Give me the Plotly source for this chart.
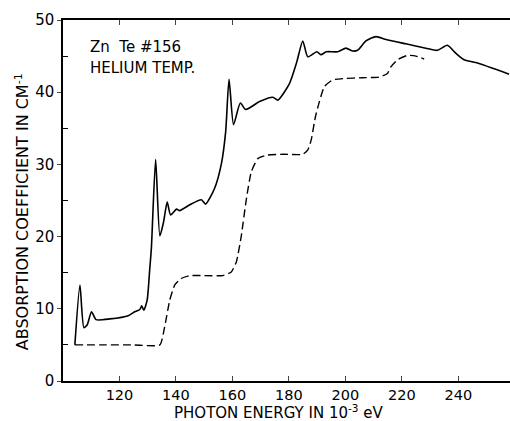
import plotly.graph_objects as go

# Solid curve: measured absorption
solid_x = [104.2, 106.0, 107.4, 108.6, 110.1, 111.7, 116.6, 123.1, 125.4, 127.2, 127.9, 128.6,
           129.8, 130.7, 131.3, 132.8, 134.3, 135.6, 136.9, 138.1, 140.2, 141.3, 144.9, 149.0,
           150.5, 153.7, 156.1, 157.6, 158.8, 160.4, 162.8, 164.7, 169.6, 174.3, 176.1, 180.2,
           182.8, 184.9, 186.7, 189.9, 191.4, 193.2, 197.3, 200.2, 202.6, 204.3, 207.3, 210.8,
           214.4, 221.4, 228.5, 232.6, 236.1, 239.1, 242.0, 246.2, 258.0]
solid_y = [5.0, 13.3, 7.4, 7.8, 9.6, 8.5, 8.6, 9.05, 9.6, 9.9, 10.4, 9.8,
           11.2, 15.4, 18.4, 30.7, 20.1, 22.0, 24.8, 23.0, 23.8, 23.6, 24.4, 25.1,
           24.5, 26.7, 30.1, 34.5, 41.8, 35.5, 38.5, 37.6, 38.7, 39.3, 38.9, 41.2,
           44.2, 47.1, 44.9, 45.6, 45.2, 45.6, 45.6, 46.1, 45.7, 45.8, 47.1, 47.7,
           47.3, 46.7, 46.1, 45.8, 46.5, 45.4, 44.5, 44.1, 42.5]

# Dashed curve
dash_x = [104.2, 115.0, 125.0, 134.3, 136.0, 137.8, 139.6, 141.9, 144.9, 150.0, 156.6, 159.6,
          161.4, 163.1, 164.9, 166.7, 169.0, 172.5, 178.0, 184.9, 186.7, 187.9, 189.4, 190.8,
          192.6, 195.5, 199.6, 206.0, 212.0, 214.9, 216.1, 218.5, 222.0, 225.0, 227.9]
dash_y = [5.0, 5.0, 5.0, 5.0, 7.5, 11.2, 13.3, 14.2, 14.6, 14.6, 14.6, 15.1,
          16.5, 20.0, 25.1, 29.0, 30.8, 31.3, 31.4, 31.4, 32.0, 33.4, 36.6, 38.7,
          40.8, 41.7, 41.9, 42.0, 42.1, 42.6, 43.5, 44.5, 45.1, 45.0, 44.6]

x_ticks = [120, 140, 160, 180, 200, 220, 240]
y_ticks = [0, 10, 20, 30, 40, 50]

FONT = "DejaVu Sans"

fig = go.Figure()
fig.add_trace(go.Scatter(x=solid_x, y=solid_y, mode="lines",
                         line=dict(color="black", width=1.6, shape="spline", smoothing=0.6),
                         showlegend=False))
fig.add_trace(go.Scatter(x=dash_x, y=dash_y, mode="lines",
                         line=dict(color="black", width=1.4, dash="8px,4px", shape="spline", smoothing=0.5),
                         showlegend=False))

fig.update_layout(
    width=510, height=421,
    margin=dict(l=63, r=0, t=20, b=40),
    paper_bgcolor="white", plot_bgcolor="white",
    font=dict(family=FONT, color="black", size=14),
    xaxis=dict(range=[100, 258.3], tickvals=x_ticks, ticks="inside", ticklen=5,
               showline=True, linecolor="black", linewidth=1.5, mirror="ticks",
               showgrid=False, zeroline=False, tickfont=dict(size=14.5)),
    yaxis=dict(range=[0, 50], tickvals=y_ticks, ticks="outside", ticklen=4,
               showline=True, linecolor="black", linewidth=1.5,
               showgrid=False, zeroline=False, tickfont=dict(size=15),
               ticklabelstandoff=0,
               minor=dict(tickvals=[5, 15, 25, 35, 45], ticks="inside", ticklen=5,
                          tickcolor="black", showgrid=False)),
    annotations=[
        dict(text="PHOTON ENERGY IN 10<sup>-3</sup> eV", xref="paper", yref="paper",
             x=(278-63)/447, y=-(401.5-381.5)/361.5, xanchor="center", yanchor="top",
             showarrow=False, font=dict(size=15), borderpad=0),
        dict(text="ABSORPTION COEFFICIENT IN CM<sup>-1</sup>", xref="paper", yref="paper",
             x=-0.092, y=0.47, xanchor="center", yanchor="middle", showarrow=False,
             textangle=-90, font=dict(size=16)),
        dict(text="Zn  Te #156", xref="paper", yref="paper",
             x=(88-63)/447, y=(381.5-47)/361.5, xanchor="left", yanchor="middle",
             showarrow=False, font=dict(size=15)),
        dict(text="HELIUM TEMP.", xref="paper", yref="paper",
             x=(88-63)/447, y=(381.5-68)/361.5, xanchor="left", yanchor="middle",
             showarrow=False, font=dict(size=15)),
    ],
)

fig.write_html("out.html")
